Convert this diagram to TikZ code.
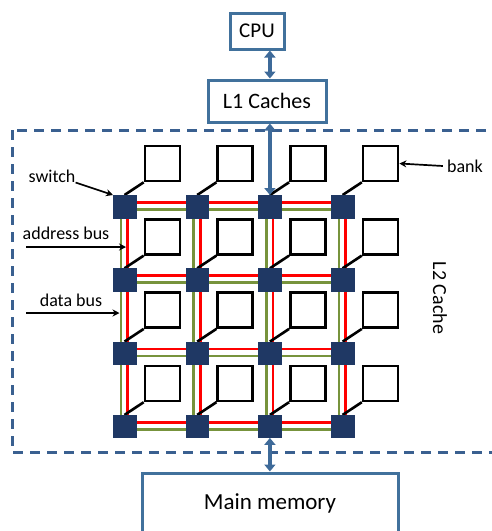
\documentclass[tikz,border=0pt]{standalone}
\usepackage{fontspec}
\setmainfont{Carlito}
\usetikzlibrary{arrows.meta}
\definecolor{boxblue}{HTML}{41719C}
\definecolor{dashblue}{HTML}{3A6090}
\definecolor{arrowblue}{HTML}{3E6A99}
\definecolor{swnavy}{HTML}{1F3864}
\definecolor{busgreen}{HTML}{77933C}
\definecolor{busred}{HTML}{FF0000}
\begin{document}
\begin{tikzpicture}[x=1pt,y=-1pt,
  membox/.style={draw=boxblue,line width=3pt,fill=white,inner sep=0pt,text=black},
  switchbox/.style={fill=swnavy,draw=swnavy,line width=0.5pt,minimum size=22.5pt,inner sep=0pt},
  bankbox/.style={draw=black,line width=2.6pt,fill=white,minimum size=35pt,inner sep=0pt},
  bankline/.style={draw=black,line width=2.6pt},
  redbus/.style={draw=busred,line width=2.7pt},
  greenbus/.style={draw=busgreen,line width=2.7pt},
  busarrow/.style={draw=arrowblue,line width=4pt,
    {Triangle[width=11pt,length=7pt]}-{Triangle[width=11pt,length=7pt]}},
  labarrow/.style={draw=black,line width=1.7pt,-{Stealth[length=7pt,width=7pt]}},
  lab/.style={inner sep=0pt,font=\fontsize{18pt}{20pt}\selectfont,text=black},
  l2dash/.style={draw=dashblue,line width=3pt,dash pattern=on 10pt off 7pt}]
\useasboundingbox (0,0) rectangle (492,531);
\clip (0,0) rectangle (492,531);

% L2 cache region
\draw[l2dash] (12,130) rectangle (505,452);
\node[inner sep=0pt,rotate=-90,font=\fontsize{20pt}{22pt}\selectfont,text=black] (l2) at (440,298) {L2 Cache};

% switches
\foreach \i in {1,...,4}{
  \foreach \j in {1,...,4}{
    \node[switchbox] (s-\i-\j) at ({124.5+72.7*(\i-1)},{206.5+73.3*(\j-1)}) {};
  }
}

% buses
\foreach \j in {1,...,4}{
  \draw[redbus] ([yshift=4pt]s-1-\j.center) -- ([yshift=4pt]s-4-\j.center);
  \draw[greenbus] ([yshift=-3pt]s-1-\j.center) -- ([yshift=-3pt]s-4-\j.center);
}
\foreach \i in {1,...,4}{
  \draw[greenbus] ([xshift=-3.5pt]s-\i-1.center) -- ([xshift=-3.5pt]s-\i-4.center);
  \draw[redbus] ([xshift=3pt]s-\i-1.center) -- ([xshift=3pt]s-\i-4.center);
}

% banks
\foreach \i in {1,...,4}{
  \foreach \j in {1,...,4}{
    \node[bankbox] (b-\i-\j) at ({162.5+72.7*(\i-1)},{163.5+73.3*(\j-1)}) {};
    \draw[bankline] (s-\i-\j.north) -- (b-\i-\j.south west);
    \node[switchbox] at (s-\i-\j) {};
  }
}

% top and bottom boxes
\node[membox,minimum width=54pt,minimum height=36pt,font=\fontsize{21pt}{23pt}\selectfont] (cpu) at (257,31) {CPU};
\node[membox,minimum width=118pt,minimum height=42pt,font=\fontsize{22pt}{24pt}\selectfont] (l1) at (267,101) {L1 Caches};
\node[membox,minimum width=256pt,minimum height=60pt,font=\fontsize{23pt}{25pt}\selectfont] (mm) at (270,503) {Main memory};

\draw[busarrow] (cpu.south -| s-3-1) -- (l1.north -| s-3-1);
\draw[busarrow] (l1.south -| s-3-1) -- (s-3-1.north);
\draw[busarrow] (mm.north -| s-3-4) -- (s-3-4.south);

% labels
\node[lab] (lsw) at (52,176) {switch};
\draw[labarrow] (lsw.south east) -- (s-1-1.north west);

\node[lab] (lab) at (66,233) {address bus};
\coordinate (abs) at (26,247);
\coordinate (abe) at (126,247);
\draw[labarrow] (abs) -- (abe);

\node[lab] (ldb) at (71,300) {data bus};
\coordinate (dbs) at (26,313);
\coordinate (dbe) at (119.5,313);
\draw[labarrow] (dbs) -- (dbe);

\node[lab] (lbank) at (465,166) {bank};
\draw[labarrow] ([xshift=-4pt]lbank.west) -- (b-4-1.east);
\end{tikzpicture}
\end{document}
